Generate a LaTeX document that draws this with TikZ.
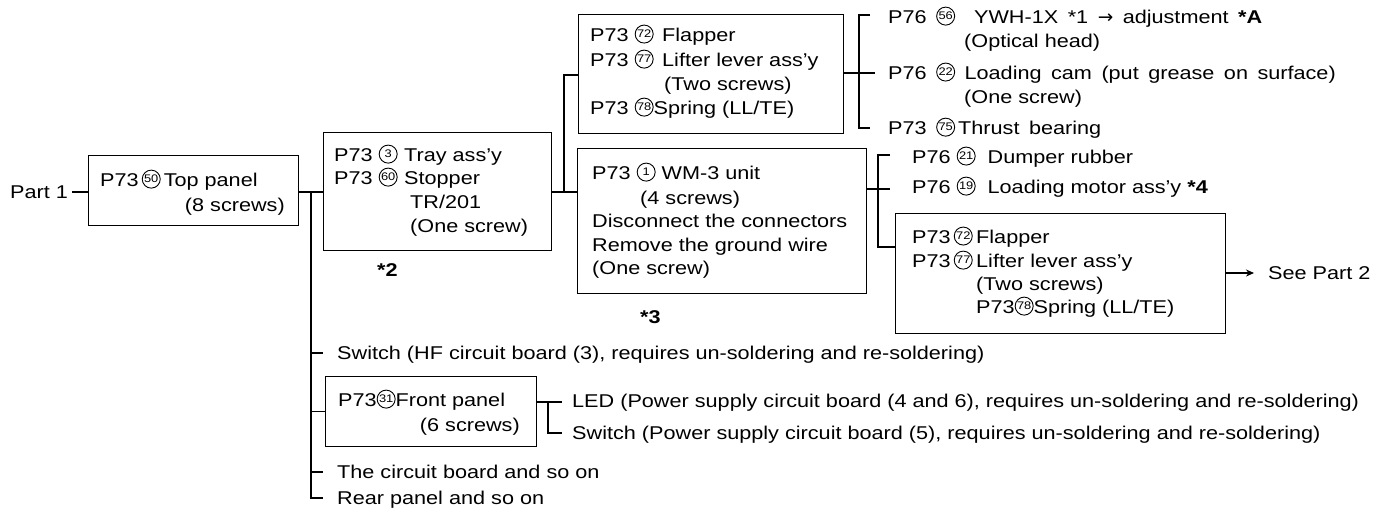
\documentclass[tikz,border=0pt]{standalone}
\usepackage{fontspec}
\setmainfont{Liberation Sans}[FakeStretch=1.17]
\newfontfamily\dv{DejaVu Sans}
\usetikzlibrary{arrows.meta}
\newcommand\mainfs{\fontsize{18.5}{22}\selectfont}
\newcommand\ws{\spaceskip=9.5pt plus 2pt\relax}
\newcommand\cn[1]{\tikz[baseline={([yshift=-3.6pt]cc.base)}]\node[draw,circle,anchor=center,line width=0.9pt,inner sep=0pt,minimum size=18pt,font=\fontsize{11}{11}\selectfont](cc){#1};}
\begin{document}
\begin{tikzpicture}[x=1pt,y=-1pt,
  box/.style={draw,line width=1.4pt,inner sep=0pt,anchor=north west},
  ln/.style={line width=1.1pt},
  t/.style={anchor=base west,inner sep=0pt,font=\mainfs},
  te/.style={anchor=base east,inner sep=0pt,font=\mainfs},
  tb/.style={anchor=base west,inner sep=0pt,font=\mainfs\bfseries}]
\fill[white] (0,0) rectangle (1374,513);
\useasboundingbox (0,0) rectangle (1374,513);

% Part 1 and top panel
\node[t] (part1) at (10,198.5) {Part 1};
\coordinate (p1r) at (72,192);
\node[box,minimum width=210pt,minimum height=70pt] (top) at (88,155) {};
\draw[ln] (p1r) -- (p1r -| top.west);
\node[t] (topa) at (100,186.5) {P73\,\cn{50}\,Top panel};
\node[te] (topb) at (285,211.5) {(8 screws)};

% spine
\coordinate (s1) at (311,192);
\node[box,minimum width=228pt,minimum height=118pt] (tray) at (323,132) {};
\draw[ln] (top.east |- s1) -- (tray.west |- s1);

% tray box
\node[t] (tray1) at (334,161.5) {P73 \cn{3}};
\node[t] (tray1b) at (404,161.5) {Tray ass'y};
\node[t] (tray2) at (334,184.5) {P73 \cn{60}};
\node[t] (tray2b) at (404,184.5) {Stopper};
\node[t] (tray3) at (410,208.5) {TR/201};
\node[t] (tray4) at (410,232.5) {(One screw)};
\node[tb] (n2) at (377,276.5) {*2};

% second join
\node[box,minimum width=265pt,minimum height=119pt] (flap) at (578,14) {};
\node[box,minimum width=289pt,minimum height=145pt] (wm) at (577,148) {};
\coordinate (s2) at (564,192);
\coordinate (s2top) at (564,75);
\draw[ln] (tray.east |- s2) -- (s2) -- (s2top) -- (s2top -| flap.west);
\draw[ln] (s2) -- (s2 -| wm.west);

% flapper box (top)
\node[t] (f1) at (590,41.5) {P73 \cn{72}};
\node[t] (f1b) at (662,41.5) {Flapper};
\node[t] (f2) at (590,66.5) {P73 \cn{77}};
\node[t] (f2b) at (662,66.5) {Lifter lever ass'y};
\node[t] (f3) at (664,90.5) {(Two screws)};
\node[t] (f4) at (590,114.5) {P73 \cn{78}Spring (LL/TE)};

% WM-3 box
\node[t] (w1) at (592,179.5) {P73 \cn{1} WM-3 unit};
\node[t] (w2) at (640,204.5) {(4 screws)};
\node[t] (w3) at (592,227.5) {Disconnect the connectors};
\node[t] (w4) at (592,251.5) {Remove the ground wire};
\node[t] (w5) at (592,274.5) {(One screw)};
\node[tb] (n3) at (640,323.5) {*3};

% top right bracket
\coordinate (b1) at (859,73);
\coordinate (b1m) at (875,73);
\coordinate (b1t) at (859,15);
\coordinate (b1b) at (859,128);
\coordinate (b1tt) at (870,15);
\coordinate (b1bt) at (870,128);
\draw[ln] (flap.east |- b1) -- (b1m);
\draw[ln] (b1tt) -- (b1t) -- (b1b) -- (b1bt);
\node[t] (r1) at (888,23.5) {\ws P76 \cn{56}\ \ YWH-1X *1 {\dv →} adjustment \textbf{*A}};
\node[t] (r1b) at (964,47.5) {(Optical head)};
\node[t] (r2) at (888,79.5) {\ws P76 \cn{22} Loading cam (put grease on surface)};
\node[t] (r2b) at (964,103.5) {(One screw)};
\node[t] (r3) at (888,134.5) {\ws P73 \cn{75}\,Thrust bearing};

% lower right bracket
\node[box,minimum width=330pt,minimum height=120pt] (flap2) at (895,213) {};
\coordinate (b2) at (878,189);
\coordinate (b2m) at (890,189);
\coordinate (b2t) at (878,155);
\coordinate (b2tt) at (890,155);
\coordinate (b2b) at (878,247);
\draw[ln] (wm.east |- b2) -- (b2m);
\draw[ln] (b2tt) -- (b2t) -- (b2b) -- (b2b -| flap2.west);
\node[t] (d1) at (912,163.5) {P76 \cn{21}\ \ Dumper rubber};
\node[t] (d2) at (912,193.5) {P76 \cn{19}\ \ Loading motor ass'y \textbf{*4}};
\node[t] (g1) at (912,243.5) {P73\,\cn{72}};
\node[t] (g1b) at (976,243.5) {Flapper};
\node[t] (g2) at (912,267.5) {P73\,\cn{77}};
\node[t] (g2b) at (976,267.5) {Lifter lever ass'y};
\node[t] (g3) at (976,290.5) {(Two screws)};
\node[t] (g4) at (976,313.5) {P73\cn{78}Spring (LL/TE)};
\node[t] (see) at (1268,279.5) {See Part 2};
\coordinate (atip) at (1254,273);
\draw[ln,-{Stealth[length=8pt,width=7pt]}] (flap2.east |- atip) -- (atip);

% bottom branches
\coordinate (swt) at (323,353);
\coordinate (cbt) at (323,472);
\coordinate (rpt) at (323,498);
\node[box,minimum width=211pt,minimum height=70pt] (front) at (325,376) {};
\draw[ln] (s1) |- (rpt);
\draw[ln] (s1 |- swt) -- (swt);
\draw[ln] (s1 |- front.west) -- (front.west);
\draw[ln] (s1 |- cbt) -- (cbt);
\node[t] (sw) at (337,359.5) {Switch (HF circuit board (3), requires un-soldering and re-soldering)};
\node[t] (fr1) at (338,406.5) {P73\cn{31}Front panel};
\node[te] (fr2) at (520,431.5) {(6 screws)};
\coordinate (b3) at (548,402);
\coordinate (b3m) at (562,402);
\coordinate (b3b) at (562,433);
\draw[ln] (front.east |- b3) -- (b3m);
\draw[ln] (b3) |- (b3b);
\node[t] (led) at (572,407.5) {LED (Power supply circuit board (4 and 6), requires un-soldering and re-soldering)};
\node[t] (sw2) at (572,439.5) {Switch (Power supply circuit board (5), requires un-soldering and re-soldering)};
\node[t] (cb) at (337,478.5) {The circuit board and so on};
\node[t] (rp) at (337,504.5) {Rear panel and so on};
\end{tikzpicture}
\end{document}
